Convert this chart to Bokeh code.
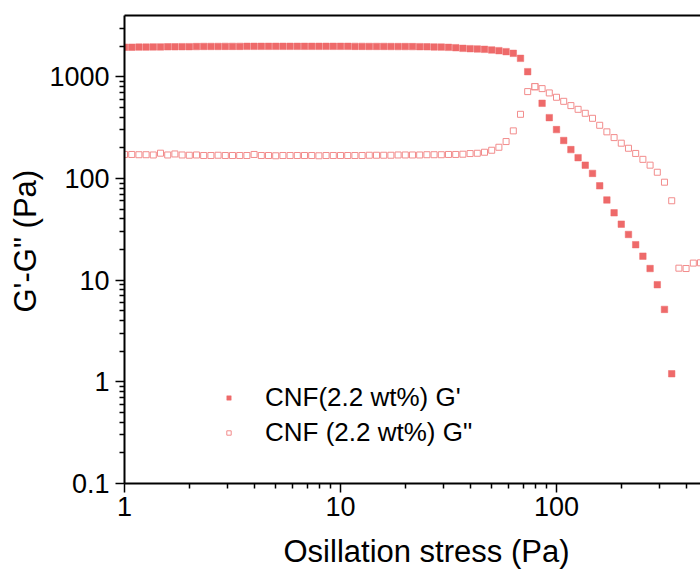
from bokeh.plotting import figure
from bokeh.models import (LogAxis, Legend, LegendItem, Range1d, FixedTicker,
                          CustomJSTickFormatter, Title)
from bokeh.embed import file_html
from bokeh.resources import INLINE

# Oscillation stress (Pa)
stress = [1.000, 1.080, 1.166, 1.259, 1.359, 1.468, 1.585, 1.711, 1.848, 1.995,
          2.154, 2.326, 2.512, 2.712, 2.929, 3.162, 3.415, 3.687, 3.981, 4.299,
          4.642, 5.012, 5.412, 5.843, 6.310, 6.813, 7.356, 7.943, 8.577, 9.261,
          10.00, 10.80, 11.66, 12.59, 13.59, 14.68, 15.85, 17.11, 18.48, 19.95,
          21.54, 23.26, 25.12, 27.12, 29.29, 31.62, 34.15, 36.87, 39.81, 42.99,
          46.42, 50.12, 54.12, 58.43, 63.10, 68.13, 73.56, 79.43, 85.77, 92.61,
          100.0, 108.0, 116.6, 125.9, 135.9, 146.8, 158.5, 171.1, 184.8, 199.5,
          215.4, 232.6, 251.2, 271.2, 292.9, 316.2, 341.5, 368.7, 398.1, 429.9,
          464.2]

# G' (Pa)
g_prime = [1950, 1950, 1955, 1955, 1965, 1965, 1970, 1970, 1975, 1975,
           1980, 1985, 1985, 1985, 1988, 1988, 1988, 1990, 1990, 1990,
           1990, 1990, 1990, 1990, 1990, 1990, 1990, 1990, 1990, 1990,
           1990, 1990, 1988, 1988, 1985, 1985, 1985, 1982, 1980, 1980,
           1978, 1975, 1970, 1962, 1955, 1945, 1930, 1901, 1888, 1876,
           1859, 1834, 1805, 1765, 1698, 1516, 1122, 795, 548, 396,
           302, 236, 192, 160, 135, 112, 84.6, 61.4, 45.9, 35.5,
           28.1, 22.3, 17.2, 13.0, 9.01, 5.15, 1.20]

# G'' (Pa)
g_double = [172, 172, 171, 171, 170, 177, 170, 174, 170, 169,
            170, 168, 168, 169, 168, 168, 168, 168, 172, 168,
            168, 167, 168, 168, 168, 168, 168, 167, 168, 168,
            168, 168, 168, 168, 169, 169, 169, 169, 170, 170,
            170, 170, 171, 171, 171, 172, 172, 173, 175.6, 176.8,
            180.9, 189.3, 202.5, 230.4, 293.5, 427, 714, 799, 764, 693,
            628, 573, 520, 478, 437, 390, 333, 287, 252, 222,
            198, 176, 154, 135, 115, 91.8, 60.3, 13.1, 13.0, 14.7,
            14.8]

x_major = [1, 10, 100]
x_minor = [2, 3, 4, 5, 6, 7, 8, 9, 20, 30, 40, 50, 60, 70, 80, 90, 200, 300, 400]
y_major = [0.1, 1, 10, 100, 1000]
y_minor = [0.2, 0.3, 0.4, 0.5, 0.6, 0.7, 0.8, 0.9,
           2, 3, 4, 5, 6, 7, 8, 9,
           20, 30, 40, 50, 60, 70, 80, 90,
           200, 300, 400, 500, 600, 700, 800, 900,
           2000, 3000]

labels = ["CNF(2.2 wt%) G'", 'CNF (2.2 wt%) G"']
x_title = "Osillation stress (Pa)"
y_title = 'G\'-G" (Pa)'

FONT = "Liberation Sans"

p = figure(width=700, height=572, x_axis_type="log", y_axis_type="log",
           x_range=Range1d(1, 464.2), y_range=Range1d(0.1, 4000),
           output_backend="svg", toolbar_location=None, title=None,
           min_border_left=124, min_border_right=0, min_border_top=15,
           min_border_bottom=89)
p.xgrid.visible = False
p.ygrid.visible = False
p.outline_line_color = None
p.background_fill_color = "white"
p.border_fill_color = "white"

r1 = p.scatter(stress[:len(g_prime)], g_prime, marker="square", size=6.5,
               fill_color="#EE6A6A", line_color="#EE6A6A", line_width=0.5)
r2 = p.scatter(stress, g_double, marker="square", size=6,
               fill_color="white", line_color="#F28C8C", line_width=1)

fmt = CustomJSTickFormatter(code="return tick.toString();")

xa = p.xaxis[0]
ya = p.yaxis[0]
xa.ticker = FixedTicker(ticks=x_major, minor_ticks=x_minor)
ya.ticker = FixedTicker(ticks=y_major, minor_ticks=y_minor)
for ax in (xa, ya):
    ax.formatter = fmt
    ax.axis_line_width = 2
    ax.axis_line_color = "black"
    ax.major_tick_line_width = 1.5
    ax.minor_tick_line_width = 1.5
    ax.major_tick_line_color = "black"
    ax.minor_tick_line_color = "black"
    ax.major_tick_out = 9
    ax.major_tick_in = 0
    ax.minor_tick_out = 5
    ax.minor_tick_in = 0
    ax.major_label_text_font = FONT
    ax.major_label_text_font_size = "27px"
    ax.major_label_text_color = "black"
xa.major_label_standoff = 4
ya.major_label_standoff = 6

# invisible spacer between the x tick labels and the x title
spacer = LogAxis(ticker=FixedTicker(ticks=x_major[:1], minor_ticks=[]),
                 formatter=CustomJSTickFormatter(code="return '';"),
                 axis_line_color=None, major_tick_line_color=None,
                 minor_tick_line_color=None, major_tick_out=13, major_tick_in=0,
                 major_label_standoff=0, major_label_text_font_size="1px")
p.add_layout(spacer, "below")

# axis titles, placed as in the (wider, cropped) original frame
p.add_layout(Title(text=x_title, align="left", offset=159, vertical_align="bottom",
                   standoff=0, text_font=FONT, text_font_size="31px",
                   text_font_style="normal", text_color="black"), "below")
p.add_layout(Title(text=y_title, align="left", offset=171, vertical_align="bottom",
                   standoff=8, text_font=FONT, text_font_size="31px",
                   text_font_style="normal", text_color="black"), "left")

top = LogAxis(ticker=FixedTicker(ticks=[], minor_ticks=[]),
              axis_line_width=2, axis_line_color="black",
              major_tick_line_color=None, minor_tick_line_color=None,
              major_label_text_font_size="0px")
p.add_layout(top, "above")

legend = Legend(items=[LegendItem(label=labels[0], renderers=[r1]),
                       LegendItem(label=labels[1], renderers=[r2])],
                location=(99, 35), glyph_width=11, glyph_height=11,
                label_standoff=31, spacing=4, padding=0, margin=0,
                border_line_color=None, background_fill_alpha=0,
                label_text_font=FONT, label_text_font_size="26px",
                label_text_color="black")
p.add_layout(legend)

open("out.html", "w").write(file_html(p, INLINE))
